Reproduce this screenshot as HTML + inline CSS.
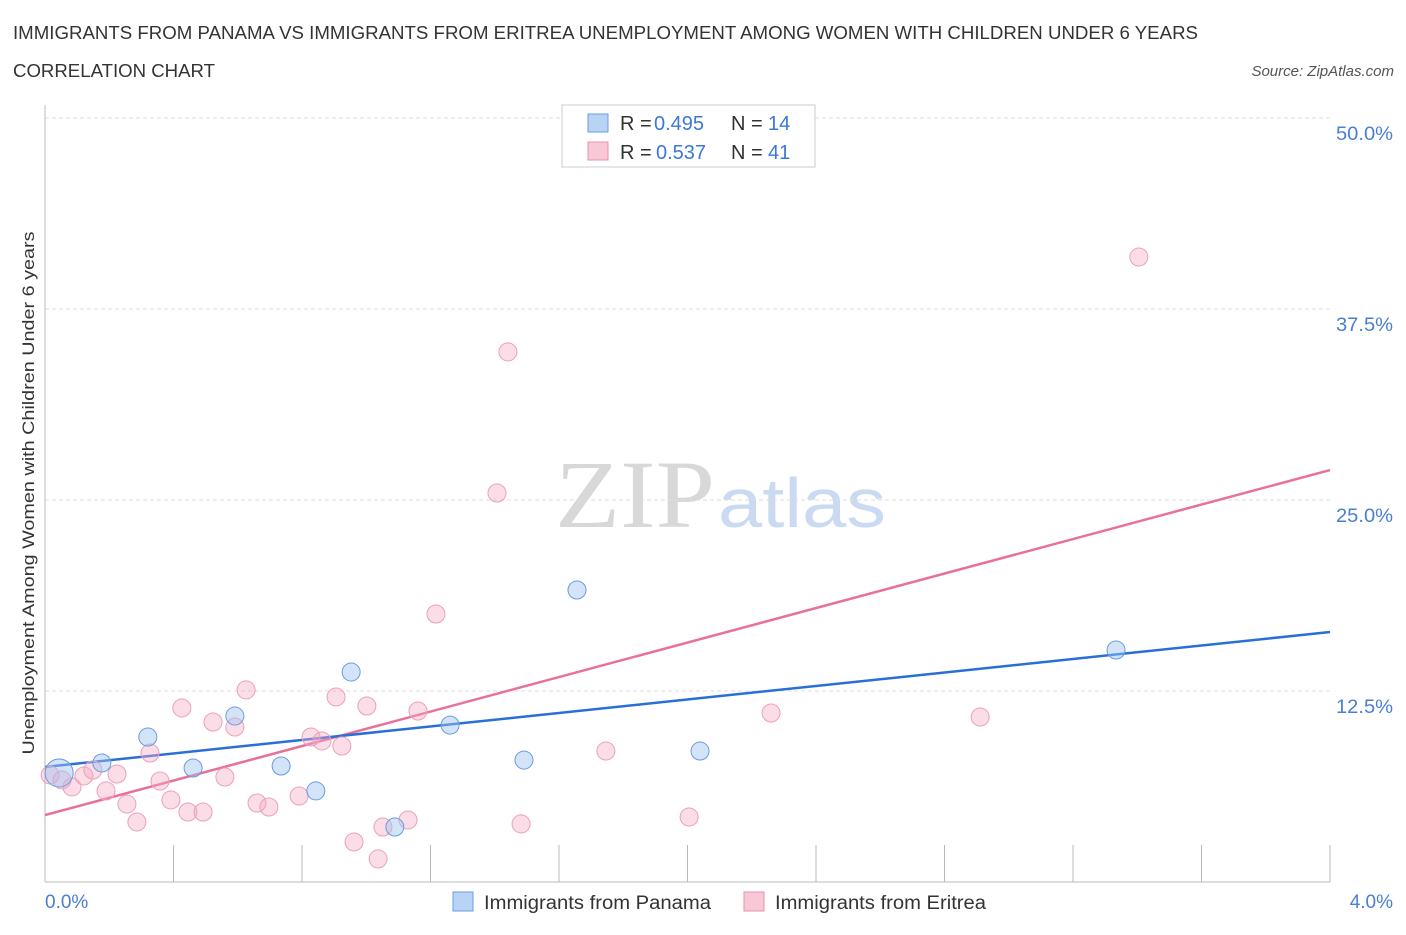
<!DOCTYPE html>
<html><head><meta charset="utf-8"><style>
body{margin:0;background:#fff;font-family:"Liberation Sans",sans-serif;}
svg text{font-family:"Liberation Sans",sans-serif;}
</style></head><body>
<svg id="c" width="1406" height="930">
<text x="13" y="39" font-size="18" fill="#333" textLength="1185" lengthAdjust="spacingAndGlyphs">IMMIGRANTS FROM PANAMA VS IMMIGRANTS FROM ERITREA UNEMPLOYMENT AMONG WOMEN WITH CHILDREN UNDER 6 YEARS</text>
<text x="13" y="77" font-size="18" fill="#333" textLength="202" lengthAdjust="spacingAndGlyphs">CORRELATION CHART</text>
<text x="1394" y="76" font-size="15" fill="#555" font-style="italic" text-anchor="end">Source: ZipAtlas.com</text>
<text x="555" y="527" font-size="96" fill="#d8d8d8" textLength="160" lengthAdjust="spacingAndGlyphs" style="font-family:'Liberation Serif',serif">ZIP</text>
<text x="718" y="527" font-size="70" fill="#c9daf2" textLength="168" lengthAdjust="spacingAndGlyphs">atlas</text>
<g id="grid"></g>
<line x1="45" y1="105" x2="45" y2="882" stroke="#bbb"/>
<line x1="45" y1="882" x2="1330" y2="882" stroke="#bbb"/>
<text x="45" y="908" font-size="19" fill="#4a7fd0">0.0%</text>
<text x="1393" y="908" font-size="19" fill="#4a7fd0" text-anchor="end">4.0%</text>
<text transform="translate(34,493) rotate(-90)" font-size="17" fill="#333" text-anchor="middle" textLength="523" lengthAdjust="spacingAndGlyphs">Unemployment Among Women with Children Under 6 years</text>
<g id="lines"></g>
<g id="pts"></g>
<g>
<rect x="562" y="105" width="253" height="62" fill="#fff" stroke="#ccc"/>
<rect x="588" y="114" width="20" height="18" fill="#b9d3f5" stroke="#6a9be0"/>
<text x="620" y="130" font-size="20" fill="#333">R =</text>
<text x="654" y="130" font-size="20" fill="#3b78d8">0.495</text>
<text x="731" y="130" font-size="20" fill="#333">N =</text>
<text x="768" y="130" font-size="20" fill="#3b78d8">14</text>
<rect x="588" y="142" width="20" height="18" fill="#f8c8d6" stroke="#e890aa"/>
<text x="620" y="159" font-size="20" fill="#333">R =</text>
<text x="656" y="159" font-size="20" fill="#3b78d8">0.537</text>
<text x="731" y="159" font-size="20" fill="#333">N =</text>
<text x="768" y="159" font-size="20" fill="#3b78d8">41</text>
</g>
<g>
<rect x="453" y="892" width="20" height="19" fill="#b9d3f5" stroke="#6a9be0"/>
<text x="484" y="909" font-size="19" fill="#333" textLength="227" lengthAdjust="spacingAndGlyphs">Immigrants from Panama</text></g>
<g>
<rect x="744" y="892" width="20" height="19" fill="#f8c8d6" stroke="#e890aa"/>
<text x="775" y="909" font-size="19" fill="#333" textLength="211" lengthAdjust="spacingAndGlyphs">Immigrants from Eritrea</text></g>
</svg>
<script>
const yTicks=[12.5,25,37.5,50];
const yTickLabels=["12.5%","25.0%","37.5%","50.0%"];
const xTicks=[0.4,0.8,1.2,1.6,2.0,2.4,2.8,3.2,3.6,4.0];
const panamaX=[0.044,0.177,0.320,0.461,0.591,0.735,0.843,0.953,1.089,1.261,1.491,1.656,2.039,3.334];
const panamaY=[7.13,7.79,9.49,7.46,10.86,7.59,5.96,13.74,3.60,10.27,7.98,19.11,8.57,15.18];
const panamaR=[14,9,9,9,9,9,9,9,9,9,9,9,9,9];
const eritreaX=[0.016,0.053,0.084,0.121,0.149,0.190,0.224,0.255,0.286,0.327,0.358,0.392,0.426,0.445,0.492,0.523,0.560,0.591,0.626,0.660,0.697,0.791,0.828,0.862,0.906,0.924,0.962,1.002,1.037,1.052,1.130,1.161,1.217,1.407,1.441,1.482,1.746,2.005,2.260,2.911,3.405];
const eritreaY=[7.00,6.68,6.22,6.94,7.33,5.96,7.07,5.10,3.93,8.44,6.61,5.37,11.39,4.58,4.58,10.47,6.87,10.14,12.57,5.17,4.91,5.63,9.49,9.23,12.11,8.90,2.62,11.52,1.51,3.60,4.06,11.19,17.54,25.46,34.69,3.80,8.57,4.25,11.06,10.80,40.90];
const panamaTrend=[7.53,16.36];
const eritreaTrend=[4.38,26.96];
const NS="http://www.w3.org/2000/svg";
const X=v=>45+v/4*1285, Y=v=>882-v*15.28;
function mk(t,a,p){const e=document.createElementNS(NS,t);for(const k in a)e.setAttribute(k,a[k]);document.getElementById(p).appendChild(e);return e;}
yTicks.forEach((t,i)=>{
 const l=mk('line',{x1:45,x2:1330,y1:Y(t),y2:Y(t),stroke:'#ddd','stroke-dasharray':'4,3'},'grid');
 
 
 const tx=mk('text',{x:1393,y:Y(t)+22,'font-size':19,fill:'#4a7fd0','text-anchor':'end',textLength:57,lengthAdjust:'spacingAndGlyphs'},'grid');
 tx.textContent=yTickLabels[i];
 
 
});
xTicks.forEach(t=>{
 const l=mk('line',{x1:X(t),x2:X(t),y1:845,y2:882,stroke:'#bbb'},'grid');
 
 
});
eritreaX.forEach((x,i)=>{
 const c=mk('circle',{cx:X(x),cy:Y(eritreaY[i]),r:9,fill:'rgba(244,170,195,0.4)',stroke:'#eba0b8','stroke-width':1},'pts');
 
 
});
panamaX.forEach((x,i)=>{
 const c=mk('circle',{cx:X(x),cy:Y(panamaY[i]),r:panamaR[i],fill:'rgba(160,195,240,0.45)',stroke:'#6a9be0','stroke-width':1},'pts');
 
 
});
const l1=mk('line',{x1:X(0),y1:Y(eritreaTrend[0]),x2:X(4),y2:Y(eritreaTrend[1]),stroke:'#e8709a','stroke-width':2.5},'lines');


const l2=mk('line',{x1:X(0),y1:Y(panamaTrend[0]),x2:X(4),y2:Y(panamaTrend[1]),stroke:'#2a6fd6','stroke-width':2.5},'lines');


</script>
</body></html>
